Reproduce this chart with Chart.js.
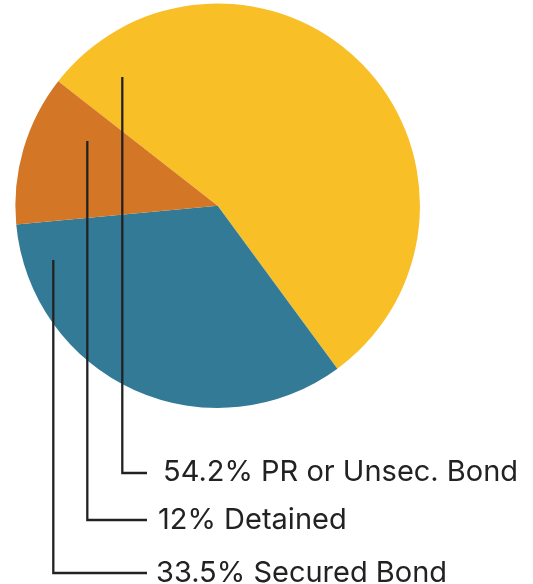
<!DOCTYPE html>
<html><head><meta charset="utf-8">
<script src="https://cdn.jsdelivr.net/npm/chart.js@4"></script>
<style>html,body{margin:0;padding:0;background:#fff;}#wrap{width:533px;height:584px;position:relative;}</style>
</head><body><div id="wrap"><canvas id="c" width="533" height="584"></canvas></div>
<script>
const categories = ["PR or Unsec. Bond", "Secured Bond", "Detained"];
const values = [54.2, 33.5, 12];
const valueLabels = ["54.2%", "33.5%", "12%"];
const colors = ["#F9BF26", "#337A96", "#D37726"];

// leader layout: [anchorX, anchorY, labelY, textX] in px
const leaders = [
  {ax:122.3, ay:77, ly:473, tx:163},
  {ax:53.3, ay:260, ly:573, tx:156},
  {ax:87.3, ay:141, ly:520, tx:158}
];

const leaderPlugin = {
  id:'leaders',
  afterDraw(chart){
    const ctx = chart.ctx;
    ctx.save();
    ctx.strokeStyle = '#222';
    ctx.lineWidth = 2.3;
    ctx.fillStyle = '#222';
    ctx.font = '29px Inter';
    ctx.textBaseline = 'middle';
    leaders.forEach((l,i)=>{
      ctx.beginPath();
      ctx.moveTo(l.ax, l.ay);
      ctx.lineTo(l.ax, l.ly);
      ctx.lineTo(147, l.ly);
      ctx.stroke();
      const txt = valueLabels[i] + ' ' + categories[i];
      ctx.fillText(txt, l.tx, l.ly - 1 + (i===0?0:1));
    });
    ctx.restore();
  }
};

new Chart(document.getElementById('c'), {
  type:'pie',
  data:{labels:categories, datasets:[{data:values, backgroundColor:colors, borderWidth:0}]},
  options:{
    responsive:false, animation:false, rotation:308,
    layout:{padding:{left:15.3, top:3.4, right:113, bottom:176}},
    plugins:{legend:{display:false}, tooltip:{enabled:false}}
  },
  plugins:[leaderPlugin]
});
</script></body></html>
